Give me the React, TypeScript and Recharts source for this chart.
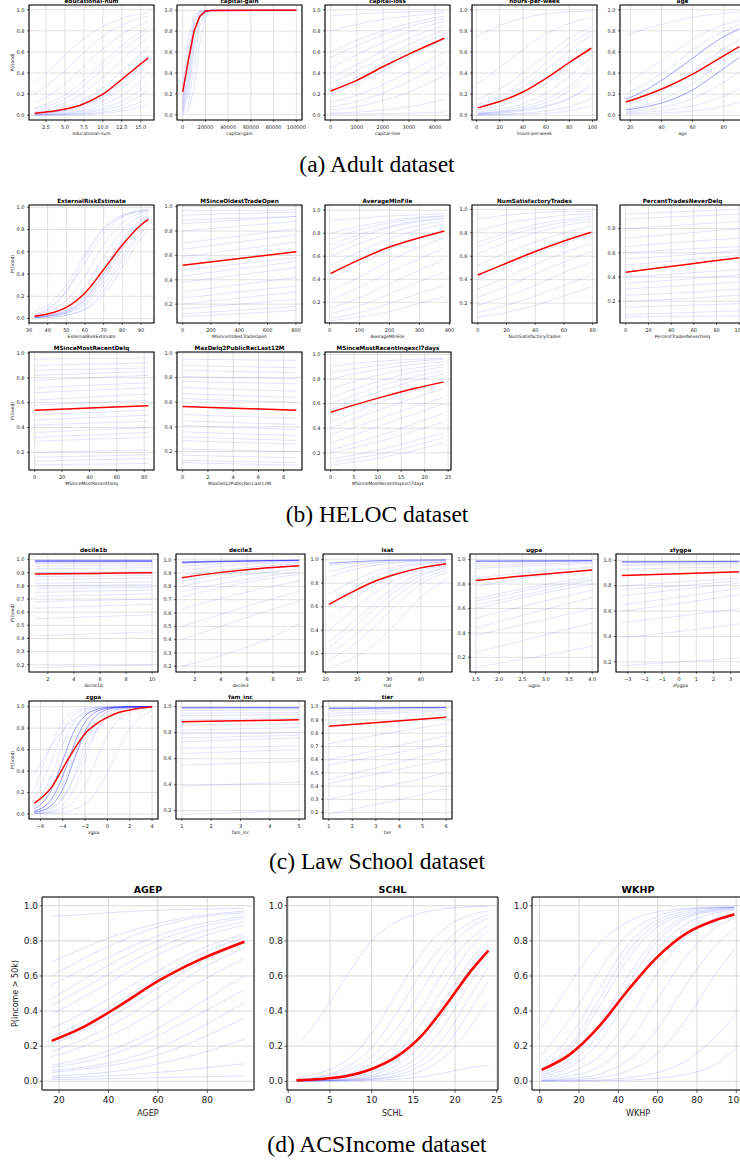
import React from 'react';
import { LineChart, Line, XAxis, YAxis, CartesianGrid, ReferenceArea } from 'recharts';

const SANS = '"DejaVu Sans", Verdana, sans-serif';
const SERIF = '"Liberation Serif", "Times New Roman", serif';

// ---------------- (a) Adult ----------------
const eduX = [1, 4, 7, 10, 13, 16];
const eduMean = [0.02, 0.045, 0.095, 0.2, 0.37, 0.545];
const eduIce = [
  [0.3, 0.5, 0.7, 0.84, 0.93, 0.97],
  [0.12, 0.24, 0.43, 0.63, 0.79, 0.89],
  [0.07, 0.15, 0.3, 0.5, 0.69, 0.83],
  [0.04, 0.09, 0.19, 0.36, 0.56, 0.74],
  [0.03, 0.06, 0.13, 0.26, 0.45, 0.65],
  [0.02, 0.04, 0.09, 0.19, 0.36, 0.57],
  [0.01, 0.03, 0.06, 0.14, 0.28, 0.48],
  [0.01, 0.02, 0.04, 0.1, 0.21, 0.4],
  [0.005, 0.012, 0.03, 0.07, 0.15, 0.3],
  [0.004, 0.008, 0.02, 0.05, 0.11, 0.23],
  [0.002, 0.005, 0.012, 0.03, 0.07, 0.16],
  [0.001, 0.003, 0.007, 0.018, 0.045, 0.1],
  [0.015, 0.035, 0.08, 0.17, 0.33, 0.53],
  [0.06, 0.12, 0.25, 0.44, 0.64, 0.8],
  [0.2, 0.36, 0.56, 0.75, 0.87, 0.94],
];

const gainX = [0, 5000, 10000, 15000, 20000, 25000, 100000];
const gainMean = [0.22, 0.52, 0.8, 0.94, 0.99, 0.998, 1.0];
const gainIce = [
  [0.01, 0.1, 0.45, 0.85, 0.97, 0.995, 1],
  [0.02, 0.2, 0.62, 0.91, 0.985, 0.998, 1],
  [0.05, 0.33, 0.77, 0.95, 0.99, 1, 1],
  [0.1, 0.48, 0.86, 0.97, 0.995, 1, 1],
  [0.18, 0.62, 0.92, 0.985, 0.998, 1, 1],
  [0.28, 0.74, 0.95, 0.99, 1, 1, 1],
  [0.0, 0.04, 0.25, 0.68, 0.93, 0.99, 1],
  [0.03, 0.26, 0.7, 0.93, 0.99, 1, 1],
  [0.07, 0.4, 0.82, 0.96, 0.993, 1, 1],
  [0.14, 0.55, 0.89, 0.98, 0.997, 1, 1],
];

const lossX = [0, 1000, 2000, 3000, 4356];
const lossMean = [0.23, 0.33, 0.46, 0.58, 0.73];
const lossIce = [
  [0.94, 0.96, 0.97, 0.98, 0.99],
  [0.8, 0.86, 0.91, 0.94, 0.97],
  [0.6, 0.71, 0.8, 0.87, 0.94],
  [0.55, 0.66, 0.76, 0.84, 0.92],
  [0.45, 0.57, 0.69, 0.79, 0.89],
  [0.35, 0.48, 0.61, 0.73, 0.85],
  [0.3, 0.42, 0.55, 0.67, 0.81],
  [0.25, 0.36, 0.49, 0.62, 0.77],
  [0.2, 0.3, 0.42, 0.55, 0.72],
  [0.12, 0.19, 0.29, 0.41, 0.6],
  [0.08, 0.13, 0.21, 0.32, 0.5],
  [0.05, 0.08, 0.14, 0.22, 0.38],
  [0.02, 0.03, 0.05, 0.08, 0.15],
  [0.01, 0.012, 0.015, 0.02, 0.03],
];

const hoursX = [1, 20, 40, 60, 80, 99];
const hoursMean = [0.07, 0.13, 0.22, 0.35, 0.5, 0.635];
const hoursIce = [
  [0.75, 0.85, 0.92, 0.96, 0.98, 0.99],
  [0.3, 0.45, 0.62, 0.77, 0.87, 0.93],
  [0.15, 0.25, 0.4, 0.57, 0.73, 0.84],
  [0.1, 0.18, 0.32, 0.5, 0.67, 0.8],
  [0.08, 0.15, 0.27, 0.43, 0.61, 0.76],
  [0.05, 0.09, 0.17, 0.3, 0.48, 0.65],
  [0.03, 0.06, 0.11, 0.21, 0.37, 0.55],
  [0.02, 0.04, 0.08, 0.15, 0.28, 0.45],
  [0.01, 0.03, 0.06, 0.12, 0.23, 0.4],
  [0.01, 0.02, 0.04, 0.08, 0.16, 0.3],
  [0.02, 0.03, 0.05, 0.09, 0.16, 0.27],
  [0.005, 0.01, 0.02, 0.04, 0.08, 0.16],
  [0.003, 0.005, 0.01, 0.02, 0.04, 0.09],
];

const ageX = [17, 30, 45, 60, 75, 90];
const ageMean = [0.125, 0.19, 0.28, 0.39, 0.52, 0.65];
const ageStrong = [
  [0.15, 0.24, 0.38, 0.54, 0.7, 0.82],
  [0.05, 0.08, 0.14, 0.24, 0.39, 0.55],
];
const ageIce = [
  [0.75, 0.82, 0.88, 0.93, 0.96, 0.98],
  [0.3, 0.42, 0.57, 0.72, 0.83, 0.9],
  [0.2, 0.3, 0.45, 0.62, 0.76, 0.86],
  [0.1, 0.16, 0.27, 0.42, 0.58, 0.72],
  [0.06, 0.1, 0.18, 0.3, 0.46, 0.62],
  [0.03, 0.05, 0.09, 0.16, 0.27, 0.41],
  [0.02, 0.03, 0.05, 0.09, 0.15, 0.25],
  [0.01, 0.015, 0.025, 0.04, 0.07, 0.12],
];

// ---------------- (b) HELOC ----------------
const ereX = [33, 40, 50, 60, 70, 80, 90, 94];
const ereMean = [0.02, 0.04, 0.1, 0.23, 0.44, 0.66, 0.84, 0.89];
const ereIce = [
  [0.01, 0.02, 0.05, 0.14, 0.34, 0.62, 0.84, 0.89],
  [0.02, 0.04, 0.11, 0.28, 0.55, 0.79, 0.92, 0.95],
  [0.03, 0.06, 0.16, 0.38, 0.66, 0.86, 0.95, 0.97],
  [0.01, 0.02, 0.06, 0.17, 0.4, 0.68, 0.87, 0.91],
  [0.005, 0.01, 0.03, 0.09, 0.25, 0.52, 0.77, 0.84],
  [0.04, 0.09, 0.24, 0.5, 0.76, 0.91, 0.97, 0.98],
  [0.01, 0.02, 0.05, 0.12, 0.3, 0.56, 0.8, 0.86],
  [0.02, 0.03, 0.08, 0.2, 0.44, 0.71, 0.89, 0.93],
  [0.015, 0.03, 0.07, 0.18, 0.4, 0.66, 0.85, 0.9],
  [0.005, 0.01, 0.03, 0.08, 0.21, 0.46, 0.72, 0.8],
  [0.06, 0.12, 0.3, 0.58, 0.81, 0.93, 0.97, 0.98],
  [0.01, 0.025, 0.06, 0.16, 0.37, 0.64, 0.86, 0.91],
  [0.03, 0.08, 0.25, 0.55, 0.8, 0.92, 0.96, 0.97],
];

const motoX = [0, 400, 803];
const motoMean = [0.52, 0.575, 0.63];
const motoIce = [
  [0.97, 0.97, 0.975],
  [0.93, 0.945, 0.955],
  [0.89, 0.905, 0.92],
  [0.86, 0.89, 0.92],
  [0.8, 0.84, 0.88],
  [0.7, 0.76, 0.82],
  [0.65, 0.71, 0.77],
  [0.59, 0.65, 0.71],
  [0.48, 0.53, 0.58],
  [0.43, 0.49, 0.55],
  [0.38, 0.44, 0.5],
  [0.3, 0.36, 0.42],
  [0.25, 0.3, 0.35],
  [0.2, 0.25, 0.3],
  [0.16, 0.2, 0.24],
  [0.12, 0.15, 0.18],
  [0.1, 0.12, 0.15],
];

const amfX = [4, 100, 200, 300, 383];
const amfMean = [0.45, 0.57, 0.68, 0.76, 0.82];
const amfIce = [
  [0.91, 0.93, 0.95, 0.96, 0.97],
  [0.8, 0.86, 0.91, 0.94, 0.95],
  [0.75, 0.83, 0.89, 0.93, 0.95],
  [0.7, 0.79, 0.86, 0.91, 0.93],
  [0.65, 0.76, 0.85, 0.9, 0.93],
  [0.6, 0.71, 0.8, 0.87, 0.9],
  [0.52, 0.64, 0.75, 0.83, 0.88],
  [0.4, 0.53, 0.66, 0.76, 0.82],
  [0.3, 0.42, 0.56, 0.68, 0.76],
  [0.22, 0.33, 0.46, 0.58, 0.67],
  [0.15, 0.24, 0.36, 0.48, 0.57],
  [0.1, 0.17, 0.27, 0.38, 0.46],
  [0.06, 0.11, 0.19, 0.28, 0.35],
  [0.04, 0.07, 0.12, 0.19, 0.25],
];

const nstX = [0, 20, 40, 60, 79];
const nstMean = [0.44, 0.54, 0.64, 0.73, 0.805];
const nstIce = [
  [0.92, 0.95, 0.97, 0.98, 0.98],
  [0.82, 0.88, 0.92, 0.95, 0.96],
  [0.72, 0.8, 0.87, 0.91, 0.94],
  [0.68, 0.77, 0.84, 0.89, 0.92],
  [0.62, 0.72, 0.8, 0.86, 0.9],
  [0.52, 0.63, 0.72, 0.8, 0.86],
  [0.4, 0.51, 0.62, 0.71, 0.78],
  [0.32, 0.42, 0.53, 0.63, 0.71],
  [0.25, 0.34, 0.45, 0.55, 0.64],
  [0.18, 0.26, 0.35, 0.46, 0.55],
  [0.12, 0.18, 0.26, 0.35, 0.44],
  [0.08, 0.12, 0.18, 0.26, 0.34],
];

const ptndX = [0, 50, 100];
const ptndMean = [0.44, 0.5, 0.56];
const ptndIce = [
  [0.92, 0.94, 0.96],
  [0.88, 0.9, 0.92],
  [0.8, 0.83, 0.86],
  [0.72, 0.76, 0.8],
  [0.65, 0.69, 0.72],
  [0.6, 0.63, 0.65],
  [0.55, 0.58, 0.62],
  [0.5, 0.54, 0.58],
  [0.4, 0.43, 0.46],
  [0.35, 0.38, 0.42],
  [0.3, 0.33, 0.36],
  [0.25, 0.27, 0.3],
  [0.2, 0.22, 0.25],
  [0.15, 0.165, 0.18],
  [0.09, 0.105, 0.12],
  [0.07, 0.075, 0.08],
];

const msrdX = [0, 40, 83];
const msrdMean = [0.54, 0.557, 0.575];
const msrdIce = [
  [0.95, 0.955, 0.96],
  [0.9, 0.91, 0.92],
  [0.86, 0.87, 0.88],
  [0.82, 0.835, 0.85],
  [0.78, 0.8, 0.82],
  [0.72, 0.74, 0.76],
  [0.68, 0.7, 0.72],
  [0.62, 0.645, 0.67],
  [0.58, 0.6, 0.62],
  [0.5, 0.52, 0.54],
  [0.46, 0.48, 0.5],
  [0.42, 0.435, 0.45],
  [0.36, 0.38, 0.4],
  [0.32, 0.34, 0.36],
  [0.29, 0.305, 0.32],
  [0.2, 0.21, 0.22],
  [0.16, 0.17, 0.18],
  [0.13, 0.14, 0.15],
  [0.1, 0.105, 0.11],
];

const mdX = [0, 4, 9];
const mdMean = [0.565, 0.552, 0.535];
const mdIce = [
  [0.95, 0.945, 0.94],
  [0.9, 0.89, 0.88],
  [0.86, 0.85, 0.84],
  [0.81, 0.8, 0.79],
  [0.77, 0.76, 0.75],
  [0.72, 0.705, 0.69],
  [0.67, 0.655, 0.64],
  [0.63, 0.615, 0.6],
  [0.5, 0.485, 0.47],
  [0.45, 0.435, 0.42],
  [0.41, 0.395, 0.38],
  [0.36, 0.345, 0.33],
  [0.32, 0.305, 0.29],
  [0.29, 0.275, 0.26],
  [0.22, 0.21, 0.2],
  [0.17, 0.16, 0.15],
  [0.13, 0.12, 0.11],
  [0.11, 0.1, 0.09],
];

const msriX = [0, 6, 12, 18, 24];
const msriMean = [0.53, 0.6, 0.665, 0.725, 0.775];
const msriIce = [
  [0.9, 0.93, 0.95, 0.96, 0.97],
  [0.85, 0.89, 0.92, 0.945, 0.96],
  [0.8, 0.85, 0.89, 0.92, 0.94],
  [0.72, 0.79, 0.85, 0.89, 0.92],
  [0.65, 0.73, 0.8, 0.86, 0.9],
  [0.6, 0.68, 0.76, 0.82, 0.87],
  [0.55, 0.64, 0.72, 0.79, 0.84],
  [0.45, 0.54, 0.63, 0.71, 0.78],
  [0.4, 0.49, 0.57, 0.65, 0.72],
  [0.35, 0.42, 0.5, 0.58, 0.65],
  [0.28, 0.36, 0.44, 0.52, 0.6],
  [0.22, 0.29, 0.36, 0.44, 0.52],
  [0.2, 0.25, 0.31, 0.38, 0.45],
  [0.15, 0.19, 0.24, 0.3, 0.36],
  [0.12, 0.16, 0.2, 0.26, 0.32],
  [0.1, 0.13, 0.17, 0.22, 0.28],
];

// ---------------- (c) Law School ----------------
const d1bX = [1, 5.5, 10];
const d1bMean = [0.89, 0.895, 0.9];
const d1bStrong = [
  [0.99, 0.99, 0.99],
  [0.995, 0.995, 0.995],
  [0.985, 0.986, 0.987],
];
const d1bIce = [
  [0.98, 0.98, 0.985],
  [0.97, 0.972, 0.975],
  [0.95, 0.955, 0.96],
  [0.93, 0.935, 0.94],
  [0.9, 0.905, 0.91],
  [0.87, 0.875, 0.88],
  [0.85, 0.855, 0.86],
  [0.82, 0.825, 0.83],
  [0.8, 0.805, 0.81],
  [0.78, 0.785, 0.79],
  [0.75, 0.76, 0.77],
  [0.72, 0.73, 0.74],
  [0.68, 0.69, 0.7],
  [0.63, 0.645, 0.66],
  [0.55, 0.565, 0.58],
  [0.42, 0.435, 0.45],
  [0.18, 0.19, 0.2],
];

const d3X = [1, 4, 7, 10];
const d3Mean = [0.865, 0.905, 0.935, 0.955];
const d3Strong = [
  [0.975, 0.985, 0.99, 0.995],
  [0.985, 0.99, 0.994, 0.997],
  [0.98, 0.987, 0.992, 0.996],
];
const d3Ice = [
  [0.95, 0.97, 0.98, 0.99],
  [0.92, 0.95, 0.97, 0.98],
  [0.88, 0.92, 0.95, 0.97],
  [0.84, 0.89, 0.93, 0.95],
  [0.8, 0.86, 0.9, 0.93],
  [0.76, 0.82, 0.87, 0.91],
  [0.72, 0.79, 0.85, 0.89],
  [0.63, 0.71, 0.78, 0.84],
  [0.5, 0.59, 0.68, 0.76],
  [0.4, 0.5, 0.6, 0.69],
  [0.2, 0.28, 0.38, 0.52],
];

const lsatX = [11, 18, 25, 32, 40, 48];
const lsatMean = [0.62, 0.72, 0.81, 0.875, 0.93, 0.965];
const lsatStrong = [[0.97, 0.98, 0.99, 0.995, 0.997, 0.998]];
const lsatIce = [
  [0.95, 0.97, 0.98, 0.99, 0.995, 0.997],
  [0.9, 0.94, 0.97, 0.98, 0.99, 0.995],
  [0.85, 0.91, 0.95, 0.97, 0.985, 0.99],
  [0.7, 0.81, 0.89, 0.94, 0.97, 0.98],
  [0.6, 0.74, 0.85, 0.92, 0.96, 0.98],
  [0.5, 0.65, 0.78, 0.87, 0.93, 0.96],
  [0.4, 0.56, 0.71, 0.83, 0.91, 0.95],
  [0.3, 0.45, 0.62, 0.77, 0.88, 0.94],
  [0.25, 0.4, 0.57, 0.73, 0.86, 0.93],
  [0.2, 0.33, 0.5, 0.68, 0.83, 0.91],
  [0.15, 0.26, 0.42, 0.61, 0.79, 0.89],
  [0.08, 0.15, 0.27, 0.45, 0.68, 0.83],
];

const ugX = [1.5, 2.75, 4.0];
const ugMean = [0.83, 0.875, 0.915];
const ugStrong = [
  [0.99, 0.99, 0.992],
  [0.985, 0.988, 0.99],
];
const ugIce = [
  [0.97, 0.98, 0.99],
  [0.95, 0.965, 0.98],
  [0.93, 0.95, 0.97],
  [0.85, 0.9, 0.94],
  [0.78, 0.86, 0.92],
  [0.68, 0.78, 0.86],
  [0.66, 0.76, 0.84],
  [0.63, 0.73, 0.83],
  [0.6, 0.71, 0.8],
  [0.52, 0.64, 0.75],
  [0.44, 0.57, 0.69],
  [0.38, 0.49, 0.6],
  [0.24, 0.36, 0.48],
  [0.12, 0.2, 0.29],
];

const zfX = [-3.35, 0, 3.5];
const zfMean = [0.88, 0.895, 0.91];
const zfStrong = [
  [0.99, 0.99, 0.992],
  [0.985, 0.987, 0.99],
];
const zfIce = [
  [0.97, 0.975, 0.98],
  [0.96, 0.965, 0.97],
  [0.93, 0.94, 0.95],
  [0.8, 0.83, 0.86],
  [0.77, 0.8, 0.84],
  [0.72, 0.77, 0.82],
  [0.65, 0.71, 0.78],
  [0.6, 0.66, 0.73],
  [0.51, 0.56, 0.62],
  [0.39, 0.44, 0.5],
  [0.17, 0.2, 0.23],
];

const zgX = [-6.55, -5, -4, -3, -2, -1, 0, 1, 2, 3, 4];
const zgMean = [0.1, 0.25, 0.425, 0.6, 0.75, 0.84, 0.9, 0.945, 0.97, 0.988, 0.996];
const zgStrong = [
  [0.045, 0.23, 0.5, 0.77, 0.917, 0.973, 0.992, 0.997, 0.999, 1.0, 1.0],
  [0.025, 0.142, 0.354, 0.646, 0.858, 0.953, 0.985, 0.995, 0.999, 1.0, 1.0],
  [0.014, 0.083, 0.23, 0.5, 0.77, 0.917, 0.973, 0.992, 0.997, 0.999, 1.0],
];
const zgIce = [
  [0.22, 0.65, 0.86, 0.95, 0.985, 0.995, 1, 1, 1, 1, 1],
  [0.135, 0.5, 0.77, 0.92, 0.973, 0.99, 0.997, 1, 1, 1, 1],
  [0.079, 0.354, 0.646, 0.858, 0.953, 0.985, 0.995, 0.999, 1, 1, 1],
  [0.008, 0.047, 0.142, 0.354, 0.646, 0.858, 0.953, 0.985, 0.995, 0.999, 1],
  [0.005, 0.027, 0.083, 0.23, 0.5, 0.77, 0.917, 0.973, 0.992, 0.997, 0.999],
  [0.004, 0.018, 0.047, 0.119, 0.269, 0.5, 0.731, 0.881, 0.953, 0.982, 0.993],
  [0.002, 0.007, 0.017, 0.041, 0.095, 0.206, 0.389, 0.611, 0.794, 0.905, 0.959],
  [0.37, 0.64, 0.78, 0.877, 0.935, 0.966, 0.983, 0.991, 0.996, 0.998, 0.999],
  [0.03, 0.12, 0.28, 0.52, 0.74, 0.88, 0.95, 0.98, 0.99, 0.996, 0.998],
  [0.02, 0.06, 0.15, 0.33, 0.57, 0.78, 0.9, 0.96, 0.985, 0.994, 0.998],
];

const fiX = [1, 3, 5];
const fiMean = [0.885, 0.892, 0.9];
const fiStrong = [
  [0.99, 0.99, 0.99],
  [0.995, 0.995, 0.995],
];
const fiIce = [
  [0.97, 0.972, 0.975],
  [0.95, 0.953, 0.955],
  [0.93, 0.935, 0.94],
  [0.9, 0.905, 0.91],
  [0.86, 0.865, 0.87],
  [0.82, 0.83, 0.84],
  [0.79, 0.795, 0.8],
  [0.76, 0.77, 0.78],
  [0.73, 0.745, 0.76],
  [0.68, 0.69, 0.7],
  [0.64, 0.655, 0.67],
  [0.55, 0.565, 0.58],
  [0.39, 0.405, 0.42],
  [0.17, 0.185, 0.2],
];

const tierX = [1, 3.5, 6];
const tierMean = [0.853, 0.887, 0.92];
const tierStrong = [
  [0.99, 0.992, 0.995],
  [0.985, 0.99, 0.993],
];
const tierIce = [
  [0.97, 0.98, 0.99],
  [0.95, 0.965, 0.98],
  [0.93, 0.95, 0.97],
  [0.72, 0.8, 0.87],
  [0.6, 0.69, 0.78],
  [0.56, 0.64, 0.72],
  [0.45, 0.56, 0.67],
  [0.42, 0.51, 0.6],
  [0.3, 0.4, 0.5],
  [0.19, 0.28, 0.38],
];

// ---------------- (d) ACSIncome ----------------
const agepX = [17, 30, 45, 60, 75, 95];
const agepMean = [0.23, 0.31, 0.435, 0.57, 0.68, 0.795];
const agepIce = [
  [0.94, 0.95, 0.965, 0.975, 0.98, 0.985],
  [0.68, 0.76, 0.84, 0.9, 0.94, 0.97],
  [0.6, 0.7, 0.8, 0.88, 0.93, 0.96],
  [0.55, 0.64, 0.74, 0.83, 0.89, 0.94],
  [0.47, 0.58, 0.7, 0.8, 0.87, 0.93],
  [0.43, 0.53, 0.65, 0.76, 0.84, 0.91],
  [0.38, 0.48, 0.6, 0.72, 0.81, 0.89],
  [0.3, 0.39, 0.51, 0.63, 0.74, 0.84],
  [0.25, 0.34, 0.46, 0.59, 0.71, 0.82],
  [0.21, 0.29, 0.4, 0.53, 0.66, 0.79],
  [0.17, 0.24, 0.35, 0.48, 0.62, 0.76],
  [0.14, 0.2, 0.29, 0.41, 0.55, 0.7],
  [0.09, 0.13, 0.2, 0.3, 0.43, 0.6],
  [0.08, 0.11, 0.17, 0.26, 0.37, 0.52],
  [0.06, 0.08, 0.12, 0.19, 0.29, 0.45],
  [0.05, 0.07, 0.1, 0.15, 0.23, 0.36],
  [0.03, 0.04, 0.06, 0.1, 0.15, 0.24],
  [0.02, 0.025, 0.035, 0.05, 0.07, 0.1],
  [0.01, 0.012, 0.015, 0.02, 0.025, 0.03],
];

const schlX = [1, 4, 7, 10, 13, 16, 19, 22, 24];
const schlMean = [0.005, 0.013, 0.03, 0.07, 0.14, 0.26, 0.44, 0.635, 0.745];
const schlIce = [
  [0.2, 0.38, 0.6, 0.8, 0.91, 0.96, 0.985, 0.995, 0.997],
  [0.02, 0.05, 0.12, 0.27, 0.5, 0.73, 0.88, 0.95, 0.97],
  [0.01, 0.03, 0.08, 0.19, 0.39, 0.62, 0.8, 0.91, 0.95],
  [0.01, 0.025, 0.06, 0.14, 0.3, 0.52, 0.74, 0.88, 0.93],
  [0.005, 0.015, 0.04, 0.1, 0.22, 0.42, 0.65, 0.82, 0.89],
  [0.005, 0.012, 0.03, 0.07, 0.16, 0.33, 0.56, 0.77, 0.86],
  [0.003, 0.008, 0.02, 0.05, 0.12, 0.26, 0.48, 0.7, 0.8],
  [0.002, 0.005, 0.013, 0.035, 0.09, 0.21, 0.42, 0.66, 0.78],
  [0.002, 0.004, 0.01, 0.025, 0.065, 0.16, 0.34, 0.58, 0.72],
  [0.001, 0.003, 0.008, 0.02, 0.05, 0.12, 0.27, 0.5, 0.65],
  [0.001, 0.002, 0.005, 0.013, 0.035, 0.09, 0.21, 0.42, 0.57],
  [0.001, 0.002, 0.004, 0.01, 0.025, 0.06, 0.15, 0.32, 0.46],
  [0.0, 0.001, 0.002, 0.005, 0.012, 0.025, 0.05, 0.08, 0.09],
];

const wkhpX = [1, 15, 30, 45, 60, 75, 90, 99];
const wkhpMean = [0.065, 0.15, 0.31, 0.52, 0.71, 0.845, 0.92, 0.95];
const wkhpIce = [
  [0.3, 0.55, 0.78, 0.91, 0.965, 0.985, 0.993, 0.995],
  [0.15, 0.35, 0.62, 0.84, 0.94, 0.98, 0.99, 0.993],
  [0.1, 0.25, 0.52, 0.78, 0.92, 0.97, 0.988, 0.99],
  [0.08, 0.2, 0.46, 0.74, 0.9, 0.96, 0.985, 0.99],
  [0.07, 0.18, 0.42, 0.7, 0.88, 0.95, 0.98, 0.99],
  [0.05, 0.12, 0.32, 0.6, 0.83, 0.94, 0.975, 0.985],
  [0.04, 0.1, 0.27, 0.55, 0.8, 0.93, 0.97, 0.98],
  [0.03, 0.08, 0.22, 0.48, 0.75, 0.9, 0.96, 0.975],
  [0.02, 0.05, 0.14, 0.35, 0.62, 0.83, 0.93, 0.96],
  [0.01, 0.03, 0.08, 0.22, 0.47, 0.72, 0.88, 0.93],
  [0.005, 0.015, 0.04, 0.12, 0.3, 0.56, 0.78, 0.87],
  [0.003, 0.008, 0.02, 0.06, 0.16, 0.36, 0.62, 0.75],
  [0.001, 0.003, 0.007, 0.02, 0.05, 0.12, 0.26, 0.37],
  [0.0, 0.001, 0.003, 0.007, 0.017, 0.04, 0.1, 0.18],
];

// ---------------- tick lists ----------------
const yT0 = [0, 0.2, 0.4, 0.6, 0.8, 1.0];
const yT2 = [0.2, 0.4, 0.6, 0.8, 1.0];
const yT28 = [0.2, 0.4, 0.6, 0.8];
const yT1 = [0.2, 0.3, 0.4, 0.5, 0.6, 0.7, 0.8, 0.9, 1.0];

type Spec = {
  title: string; xLabel: string; yLabel?: string;
  xs: number[]; mean: number[]; ice: number[][]; strong?: number[][];
  xDomain: [number, number]; xTicks: number[]; xDec: number;
  yDomain: [number, number]; yTicks: number[];
  box: [number, number, number, number]; big?: boolean; curve?: 'linear' | 'monotone';
};

// layout (plot-box positions)
const cAB = [29, 177, 325, 472, 620];
const cC = [29, 176, 323, 470, 616];
const cD = [42, 287, 532];
const box = (x: number, y: number, w: number, h: number): [number, number, number, number] => [x, y, w, h];

const panels: Spec[] = [
  { title: 'educational-num', xLabel: 'educational-num', yLabel: 'P(Good)', xs: eduX, mean: eduMean, ice: eduIce, xDomain: [0.25, 16.75], xTicks: [2.5, 5, 7.5, 10, 12.5, 15], xDec: 1, yDomain: [-0.045, 1.045], yTicks: yT0, box: box(cAB[0], 5, 125, 115) },
  { title: 'capital-gain', xLabel: 'capital-gain', xs: gainX, mean: gainMean, ice: gainIce, xDomain: [-5000, 105000], xTicks: [0, 20000, 40000, 60000, 80000, 100000], xDec: 0, yDomain: [-0.05, 1.05], yTicks: yT0, box: box(cAB[1], 5, 125, 115), curve: 'linear' },
  { title: 'capital-loss', xLabel: 'capital-loss', xs: lossX, mean: lossMean, ice: lossIce, xDomain: [-218, 4574], xTicks: [0, 1000, 2000, 3000, 4000], xDec: 0, yDomain: [-0.045, 1.045], yTicks: yT0, box: box(cAB[2], 5, 125, 115) },
  { title: 'hours-per-week', xLabel: 'hours-per-week', xs: hoursX, mean: hoursMean, ice: hoursIce, xDomain: [-3.9, 103.9], xTicks: [0, 20, 40, 60, 80, 100], xDec: 0, yDomain: [-0.045, 1.045], yTicks: yT0, box: box(cAB[3], 5, 125, 115) },
  { title: 'age', xLabel: 'age', xs: ageX, mean: ageMean, ice: ageIce, strong: ageStrong, xDomain: [13.35, 93.65], xTicks: [20, 40, 60, 80], xDec: 0, yDomain: [-0.045, 1.045], yTicks: yT0, box: box(cAB[4], 5, 125, 115) },

  { title: 'ExternalRiskEstimate', xLabel: 'ExternalRiskEstimate', yLabel: 'P(Good)', xs: ereX, mean: ereMean, ice: ereIce, xDomain: [30, 97], xTicks: [30, 40, 50, 60, 70, 80, 90], xDec: 0, yDomain: [-0.04, 1.02], yTicks: yT0, box: box(cAB[0], 205, 125, 118) },
  { title: 'MSinceOldestTradeOpen', xLabel: 'MSinceOldestTradeOpen', xs: motoX, mean: motoMean, ice: motoIce, xDomain: [-40, 843], xTicks: [0, 200, 400, 600, 800], xDec: 0, yDomain: [0.045, 1.014], yTicks: yT2, box: box(cAB[1], 205, 125, 118) },
  { title: 'AverageMInFile', xLabel: 'AverageMInFile', xs: amfX, mean: amfMean, ice: amfIce, xDomain: [-15, 402], xTicks: [0, 100, 200, 300, 400], xDec: 0, yDomain: [0.02, 1.045], yTicks: yT2, box: box(cAB[2], 205, 125, 118) },
  { title: 'NumSatisfactoryTrades', xLabel: 'NumSatisfactoryTrades', xs: nstX, mean: nstMean, ice: nstIce, xDomain: [-4, 83], xTicks: [0, 20, 40, 60, 80], xDec: 0, yDomain: [0.03, 1.037], yTicks: yT2, box: box(cAB[3], 205, 125, 118) },
  { title: 'PercentTradesNeverDelq', xLabel: 'PercentTradesNeverDelq', xs: ptndX, mean: ptndMean, ice: ptndIce, xDomain: [-5, 105], xTicks: [0, 20, 40, 60, 80, 100], xDec: 0, yDomain: [0.02, 0.995], yTicks: yT28, box: box(cAB[4], 205, 125, 118) },
  { title: 'MSinceMostRecentDelq', xLabel: 'MSinceMostRecentDelq', yLabel: 'P(Good)', xs: msrdX, mean: msrdMean, ice: msrdIce, xDomain: [-4.15, 87.15], xTicks: [0, 20, 40, 60, 80], xDec: 0, yDomain: [0.058, 1.008], yTicks: yT2, box: box(cAB[0], 352, 125, 118) },
  { title: 'MaxDelq2PublicRecLast12M', xLabel: 'MaxDelq2PublicRecLast12M', xs: mdX, mean: mdMean, ice: mdIce, xDomain: [-0.45, 9.45], xTicks: [0, 2, 4, 6, 8], xDec: 0, yDomain: [0.05, 1.008], yTicks: yT2, box: box(cAB[1], 352, 125, 118) },
  { title: 'MSinceMostRecentInqexcl7days', xLabel: 'MSinceMostRecentInqexcl7days', xs: msriX, mean: msriMean, ice: msriIce, xDomain: [-1.2, 25.6], xTicks: [0, 5, 10, 15, 20, 25], xDec: 0, yDomain: [0.06, 1.02], yTicks: yT2, box: box(cAB[2], 352, 126, 118) },

  { title: 'decile1b', xLabel: 'decile1b', yLabel: 'P(Good)', xs: d1bX, mean: d1bMean, ice: d1bIce, strong: d1bStrong, xDomain: [0.55, 10.45], xTicks: [2, 4, 6, 8, 10], xDec: 0, yDomain: [0.145, 1.043], yTicks: yT1, box: box(cC[0], 554, 129, 118) },
  { title: 'decile3', xLabel: 'decile3', xs: d3X, mean: d3Mean, ice: d3Ice, strong: d3Strong, xDomain: [0.55, 10.45], xTicks: [2, 4, 6, 8, 10], xDec: 0, yDomain: [0.157, 1.043], yTicks: yT1, box: box(cC[1], 554, 129, 118) },
  { title: 'lsat', xLabel: 'lsat', xs: lsatX, mean: lsatMean, ice: lsatIce, strong: lsatStrong, xDomain: [9.15, 49.85], xTicks: [10, 20, 30, 40], xDec: 0, yDomain: [0.044, 1.048], yTicks: yT2, box: box(cC[2], 554, 129, 118) },
  { title: 'ugpa', xLabel: 'ugpa', xs: ugX, mean: ugMean, ice: ugIce, strong: ugStrong, xDomain: [1.375, 4.125], xTicks: [1.5, 2.0, 2.5, 3.0, 3.5, 4.0], xDec: 1, yDomain: [0.08, 1.046], yTicks: yT2, box: box(cC[3], 554, 128, 118) },
  { title: 'zfygpa', xLabel: 'zfygpa', xs: zfX, mean: zfMean, ice: zfIce, strong: zfStrong, xDomain: [-3.69, 3.84], xTicks: [-3, -2, -1, 0, 1, 2, 3], xDec: 0, yDomain: [0.12, 1.05], yTicks: yT2, box: box(cC[4], 554, 129, 118) },
  { title: 'zgpa', xLabel: 'zgpa', yLabel: 'P(Good)', xs: zgX, mean: zgMean, ice: zgIce, strong: zgStrong, xDomain: [-7.03, 4.53], xTicks: [-6, -4, -2, 0, 2, 4], xDec: 0, yDomain: [-0.047, 1.053], yTicks: yT0, box: box(cC[0], 701, 129, 118) },
  { title: 'fam_inc', xLabel: 'fam_inc', xs: fiX, mean: fiMean, ice: fiIce, strong: fiStrong, xDomain: [0.8, 5.2], xTicks: [1, 2, 3, 4, 5], xDec: 0, yDomain: [0.136, 1.044], yTicks: yT2, box: box(cC[1], 701, 129, 118) },
  { title: 'tier', xLabel: 'tier', xs: tierX, mean: tierMean, ice: tierIce, strong: tierStrong, xDomain: [0.75, 6.25], xTicks: [1, 2, 3, 4, 5, 6], xDec: 0, yDomain: [0.152, 1.043], yTicks: yT1, box: box(cC[2], 701, 129, 118) },

  { title: 'AGEP', xLabel: 'AGEP', yLabel: 'P(income > 50k)', xs: agepX, mean: agepMean, ice: agepIce, xDomain: [13.1, 98.9], xTicks: [20, 40, 60, 80], xDec: 0, yDomain: [-0.05, 1.05], yTicks: yT0, box: box(cD[0], 897, 212, 193), big: true },
  { title: 'SCHL', xLabel: 'SCHL', xs: schlX, mean: schlMean, ice: schlIce, xDomain: [-0.15, 25.15], xTicks: [0, 5, 10, 15, 20, 25], xDec: 0, yDomain: [-0.05, 1.05], yTicks: yT0, box: box(cD[1], 897, 211, 193), big: true },
  { title: 'WKHP', xLabel: 'WKHP', xs: wkhpX, mean: wkhpMean, ice: wkhpIce, xDomain: [-3.9, 103.9], xTicks: [0, 20, 40, 60, 80, 100], xDec: 0, yDomain: [-0.05, 1.05], yTicks: yT0, box: box(cD[2], 897, 212, 193), big: true },
];

const captions = [
  { text: '(a) Adult dataset', y: 172 },
  { text: '(b) HELOC dataset', y: 522 },
  { text: '(c) Law School dataset', y: 869 },
  { text: '(d) ACSIncome dataset', y: 1152 },
];

const fmt = (dec: number) => (v: number) => {
  const s = Math.abs(v).toFixed(dec);
  return (v < -1e-9 ? '\u2212' : '') + s;
};

function Panel({ p }: { p: Spec }) {
  const big = !!p.big;
  const [bx, by, bw, bh] = p.box;
  const L = p.yLabel ? bx : big ? 40 : 26;
  const T = 4;
  const R = 22;
  const extra = big ? 5 : 3;
  const B = (big ? 26 : 15) + extra;
  const curve = p.curve || 'monotone';
  const rows = p.xs.map((x, i) => {
    const r: Record<string, number> = { x, mean: p.mean[i] };
    p.ice.forEach((c, j) => { r['c' + j] = c[i]; });
    (p.strong || []).forEach((c, j) => { r['s' + j] = c[i]; });
    return r;
  });
  const tickFont = big ? 9 : 5;
  const labFont = big ? 8 : 4.5;
  return (
    <div style={{ position: 'absolute', left: bx - L, top: by - T }}>
      <LineChart width={bw + L + R} height={bh + T + B} data={rows} margin={{ top: T, right: R, left: 0, bottom: 0 }}>
        <CartesianGrid stroke="#d4d4d4" strokeWidth={big ? 0.9 : 0.7} />
        <XAxis
          type="number" dataKey="x" domain={p.xDomain} ticks={p.xTicks} allowDataOverflow interval={0}
          height={B} tickSize={big ? 3 : 2} tickMargin={big ? 3.5 : 3} axisLine={false}
          tickLine={{ stroke: '#000', strokeWidth: 0.6 }}
          tick={{ fontSize: tickFont, fill: '#222', fontFamily: SANS }}
          tickFormatter={fmt(p.xDec)}
          label={{ value: p.xLabel, position: 'insideBottom', offset: extra, fontSize: labFont, fill: '#222', fontFamily: SANS }}
        />
        <YAxis
          type="number" domain={p.yDomain} ticks={p.yTicks} allowDataOverflow interval={0}
          width={L} tickSize={big ? 2.5 : 2} tickMargin={big ? 1.5 : 2.5} axisLine={false}
          tickLine={{ stroke: '#000', strokeWidth: 0.6 }}
          tick={{ fontSize: tickFont, fill: '#222', fontFamily: SANS }}
          tickFormatter={fmt(1)}
        />
        {p.ice.map((_, j) => (
          <Line key={'c' + j} dataKey={'c' + j} type={curve} stroke="#0000ff" strokeOpacity={big ? 0.13 : 0.15}
            strokeWidth={big ? 1 : 0.75} dot={false} activeDot={false} isAnimationActive={false} />
        ))}
        {(p.strong || []).map((_, j) => (
          <Line key={'s' + j} dataKey={'s' + j} type={curve} stroke="#0000ff" strokeOpacity={0.38}
            strokeWidth={big ? 1.2 : 1} dot={false} activeDot={false} isAnimationActive={false} />
        ))}
        <Line dataKey="mean" type={curve} stroke="#ff0000" strokeWidth={big ? 2.6 : 1.5}
          dot={false} activeDot={false} isAnimationActive={false} />
        <ReferenceArea x1={p.xDomain[0]} x2={p.xDomain[1]} y1={p.yDomain[0]} y2={p.yDomain[1]}
          fill="none" stroke="#000" strokeWidth={big ? 1 : 1.1} ifOverflow="visible" />
      </LineChart>
    </div>
  );
}

export default function App() {
  return (
    <div style={{ position: 'absolute', left: 0, top: 0, width: 740, height: 1162, overflow: 'hidden', background: '#fff' }}>
      {panels.map((p) => <Panel key={p.title} p={p} />)}
      <svg width={740} height={1162} style={{ position: 'absolute', left: 0, top: 0, pointerEvents: 'none' }}>
        {panels.map((p) => {
          const [bx, by, bw, bh] = p.box;
          const big = !!p.big;
          return (
            <g key={'t' + p.title}>
              <text x={bx + bw / 2} y={by - (big ? 4 : 2)} textAnchor="middle" fontFamily={SANS}
                fontWeight="bold" fontSize={big ? 9.5 : 5.7} fill="#000">{p.title}</text>
              {p.yLabel ? (
                <text x={big ? 15 : 12} y={by + bh / 2} textAnchor="middle" dominantBaseline="central"
                  transform={`rotate(-90 ${big ? 15 : 12} ${by + bh / 2})`} fontFamily={SANS}
                  fontSize={big ? 8 : 4.5} fill="#222">{p.yLabel}</text>
              ) : null}
            </g>
          );
        })}
        {captions.map((c) => (
          <text key={c.text} x={377} y={c.y} textAnchor="middle" fontFamily={SERIF} fontSize={23.5} fill="#000">{c.text}</text>
        ))}
      </svg>
    </div>
  );
}
